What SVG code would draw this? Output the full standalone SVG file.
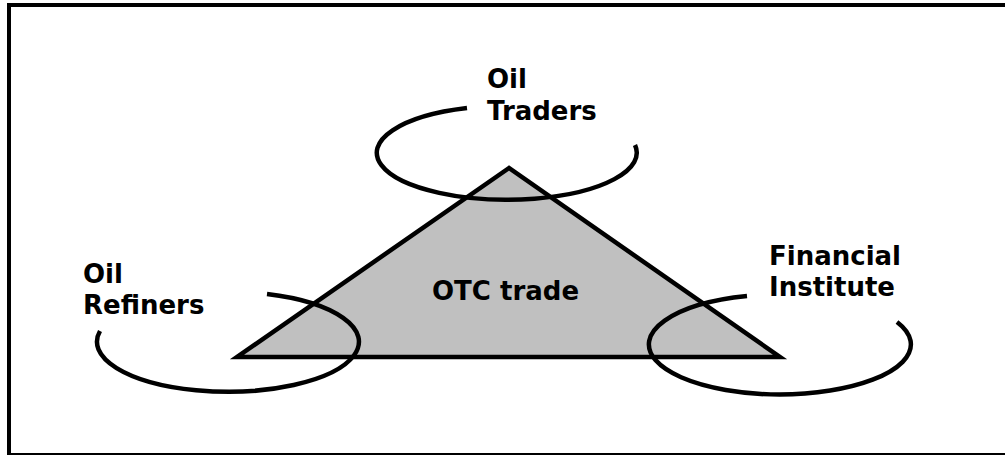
<svg xmlns="http://www.w3.org/2000/svg" width="1005" height="455" viewBox="0 0 1005 455">
<style>
.lbl{font-family:"DejaVu Sans",Verdana,sans-serif;font-weight:bold;font-size:26px;fill:#000}
.ring{fill:none;stroke:#000;stroke-width:4.5}
</style>
<rect x="9" y="5" width="1000" height="450" fill="#fff" stroke="#000" stroke-width="4"/>
<g id="otc-trade">
<polygon points="509,168 237,357 780,357" fill="#c0c0c0" stroke="#000" stroke-width="4.5"/>
<text class="lbl" x="432" y="300">OTC trade</text>
</g>
<g id="connectors">
<path class="ring" d="M467,108 A130,47 0 1 0 635,145"/>
<path class="ring" d="M267,294 A131,50 0 1 1 100,331"/>
<path class="ring" d="M747,296 A131,50 0 1 0 897,322"/>
</g>
<g id="oil-traders">
<text class="lbl" x="487" y="88">Oil</text>
<text class="lbl" x="487" y="120">Traders</text>
</g>
<g id="oil-refiners">
<text class="lbl" x="83" y="283">Oil</text>
<text class="lbl" x="83" y="314">Refiners</text>
</g>
<g id="financial-institute">
<text class="lbl" x="769" y="265">Financial</text>
<text class="lbl" x="769" y="296">Institute</text>
</g>
</svg>
